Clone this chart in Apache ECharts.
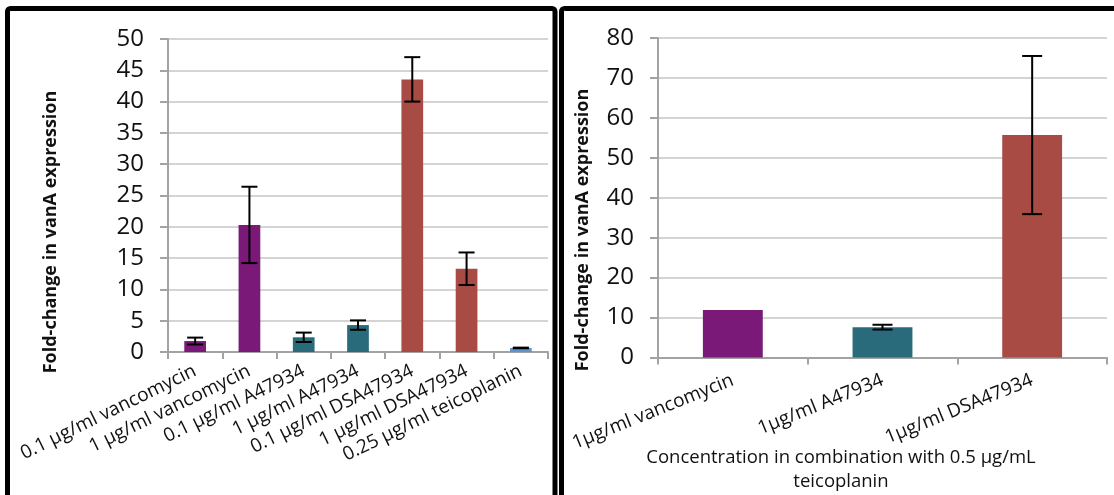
<!DOCTYPE html>
<html>
<head>
<meta charset="utf-8">
<script src="https://cdn.jsdelivr.net/npm/echarts@6/dist/echarts.min.js"></script>
<style>
html,body{margin:0;padding:0;background:#fff;}
#chart{width:1114px;height:495px;}
</style>
</head>
<body>
<div id="chart"></div>
<script>
// Left panel data
const leftCategories = [
  '0.1 µg/ml vancomycin', '1 µg/ml vancomycin', '0.1 µg/ml A47934', '1 µg/ml A47934',
  '0.1 µg/ml DSA47934', '1 µg/ml DSA47934', '0.25 µg/ml teicoplanin'
];
const leftValues = [1.75, 20.3, 2.35, 4.3, 43.55, 13.3, 0.65];
const leftErrors = [0.55, 6.1, 0.75, 0.75, 3.55, 2.6, 0.05];
const leftColors = ['#7a1978', '#7a1978', '#2a6b7b', '#2a6b7b', '#a84b45', '#a84b45', '#6193cd'];
const leftTicks = { min: 0, max: 50, interval: 5 };

// Right panel data
const rightCategories = ['1μg/ml vancomycin', '1μg/ml A47934', '1μg/ml DSA47934'];
const rightValues = [11.9, 7.6, 55.7];
const rightErrors = [null, 0.6, 19.8];
const rightColors = ['#7a1978', '#2a6b7b', '#a84b45'];
const rightTicks = { min: 0, max: 80, interval: 10 };

const yTitle = 'Fold-change in vanA expression';
const rightXTitle = ['Concentration in combination with 0.5 μg/mL', 'teicoplanin'];

const FONT = '"Open Sans", sans-serif';
const axisGray = '#a3a3a3';
const gridGray = '#d4d4d4';

function errRender(halfCap) {
  return function (params, api) {
    const e = api.value(2);
    if (e === null || e === undefined || isNaN(e)) return null;
    const i = api.value(0), v = api.value(1);
    const top = api.coord([i, v + e]);
    const bot = api.coord([i, v - e]);
    const style = { stroke: '#000', lineWidth: 2 };
    return {
      type: 'group',
      children: [
        { type: 'line', shape: { x1: top[0], y1: top[1], x2: bot[0], y2: bot[1] }, style },
        { type: 'line', shape: { x1: top[0] - halfCap, y1: top[1], x2: top[0] + halfCap, y2: top[1] }, style },
        { type: 'line', shape: { x1: bot[0] - halfCap, y1: bot[1], x2: bot[0] + halfCap, y2: bot[1] }, style }
      ]
    };
  };
}

function yAxisCfg(t, idx) {
  return {
    type: 'value', gridIndex: idx, min: t.min, max: t.max, interval: t.interval,
    axisLine: { show: true, lineStyle: { color: axisGray, width: 2 } },
    axisTick: { show: true, length: 8, lineStyle: { color: axisGray, width: 2 } },
    splitLine: { show: true, lineStyle: { color: gridGray, width: 2 } },
    axisLabel: { fontFamily: FONT, fontSize: 24, color: '#111', margin: 24 }
  };
}

function xAxisCfg(cats, idx, rot, margin, size) {
  return {
    type: 'category', gridIndex: idx, data: cats,
    axisLine: { show: true, lineStyle: { color: axisGray, width: 2 } },
    axisTick: { show: true, length: 7, lineStyle: { color: axisGray, width: 2 } },
    axisLabel: { interval: 0, rotate: rot, margin: margin, fontFamily: FONT, fontSize: size, color: '#111' }
  };
}

const chart = echarts.init(document.getElementById('chart'));
chart.setOption({
  animation: false,
  backgroundColor: '#fff',
  grid: [
    { left: 168, right: 566, top: 39, bottom: 143 },
    { left: 658, right: 7, top: 38, bottom: 137.5 }
  ],
  xAxis: [
    xAxisCfg(leftCategories, 0, 26, 18, 19),
    xAxisCfg(rightCategories, 1, 22, 22, 19)
  ],
  yAxis: [yAxisCfg(leftTicks, 0), yAxisCfg(rightTicks, 1)],
  series: [
    {
      type: 'bar', xAxisIndex: 0, yAxisIndex: 0, barCategoryGap: '60%',
      data: leftValues.map((v, i) => ({ value: v, itemStyle: { color: leftColors[i] } }))
    },
    {
      type: 'custom', xAxisIndex: 0, yAxisIndex: 0, z: 5,
      renderItem: errRender(8),
      data: leftValues.map((v, i) => [i, v, leftErrors[i]])
    },
    {
      type: 'bar', xAxisIndex: 1, yAxisIndex: 1, barCategoryGap: '60%',
      data: rightValues.map((v, i) => ({ value: v, itemStyle: { color: rightColors[i] } }))
    },
    {
      type: 'custom', xAxisIndex: 1, yAxisIndex: 1, z: 5,
      renderItem: errRender(10),
      data: rightValues.map((v, i) => [i, v, rightErrors[i]])
    }
  ],
  graphic: [
    { type: 'rect', shape: { x: 7.5, y: 8.5, width: 547.5, height: 600, r: 3 },
      style: { fill: 'none', stroke: '#000', lineWidth: 5 } },
    { type: 'rect', shape: { x: 561.5, y: 8.5, width: 600, height: 600, r: 3 },
      style: { fill: 'none', stroke: '#000', lineWidth: 5 } },
    { type: 'text', x: 51, y: 232, rotation: Math.PI / 2,
      style: { text: yTitle, fontFamily: FONT, fontWeight: 'bold', fontSize: 18, fill: '#111',
               align: 'center', verticalAlign: 'middle' } },
    { type: 'text', x: 583, y: 230, rotation: Math.PI / 2,
      style: { text: yTitle, fontFamily: FONT, fontWeight: 'bold', fontSize: 18, fill: '#111',
               align: 'center', verticalAlign: 'middle' } },
    { type: 'text', x: 841, y: 458,
      style: { text: rightXTitle[0], fontFamily: FONT, fontSize: 18.5, fill: '#111',
               align: 'center', verticalAlign: 'middle' } },
    { type: 'text', x: 841, y: 482,
      style: { text: rightXTitle[1], fontFamily: FONT, fontSize: 18.5, fill: '#111',
               align: 'center', verticalAlign: 'middle' } }
  ]
});
</script>
</body>
</html>
